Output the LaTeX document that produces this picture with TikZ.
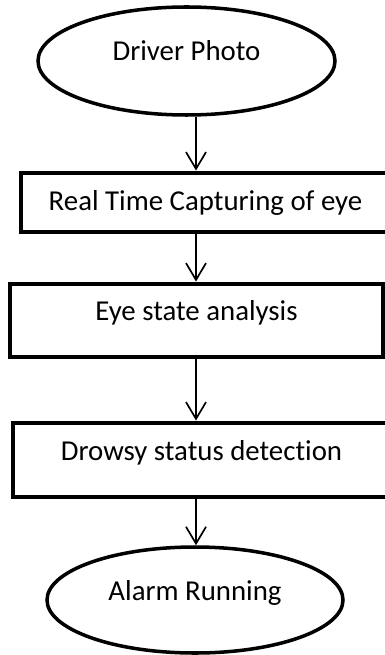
\documentclass[tikz,border=0pt]{standalone}
\usepackage{fontspec}
\setmainfont[Ligatures=NoCommon]{Carlito}
\usepackage{xcolor}
\usepackage{tikz}
\usetikzlibrary{shapes,arrows.meta,positioning,calc}

\begin{document}
\begin{tikzpicture}[
    font=\fontsize{20.5}{24}\selectfont,
    termnode/.style={draw, ellipse, line width=2.5pt, inner sep=0pt},
    procnode/.style={draw, rectangle, line width=3.5pt, inner sep=0pt},
    midline/.style={text height=0.45cm, text depth=0.45cm},
    flow/.style={-{Straight Barb[length=0.42cm, width=0.5cm]}, line width=1.2pt}
  ]
  \useasboundingbox (0,0) rectangle (9.625,-16.375);

  % 流程节点
  \node[termnode, midline, minimum width=7.425cm, minimum height=2.7cm] (photo) at (4.6625,-1.525) {Driver Photo};
  \node[procnode, minimum width=9.225cm, minimum height=1.475cm] (capture) at (5.1375,-5.0625) {Real Time Capturing of eye};
  \node[procnode, midline, minimum width=9.325cm, minimum height=1.825cm] (analysis) at (4.9125,-8.0125) {Eye state analysis};
  \node[procnode, midline, minimum width=9.425cm, minimum height=1.85cm] (detect) at (5.0375,-11.5) {Drowsy status detection};
  \node[termnode, midline, minimum width=7.4cm, minimum height=2.65cm] (alarm) at (4.875,-15) {Alarm Running};

  % 箭头
  \coordinate (axis) at (4.9,0);
  \draw[flow] (photo.south -| axis) -- (capture.north -| axis);
  \draw[flow] (capture.south -| axis) -- (analysis.north -| axis);
  \draw[flow] (analysis.south -| axis) -- (detect.north -| axis);
  \draw[flow] (detect.south -| axis) -- (alarm.north -| axis);
\end{tikzpicture}
\end{document}
